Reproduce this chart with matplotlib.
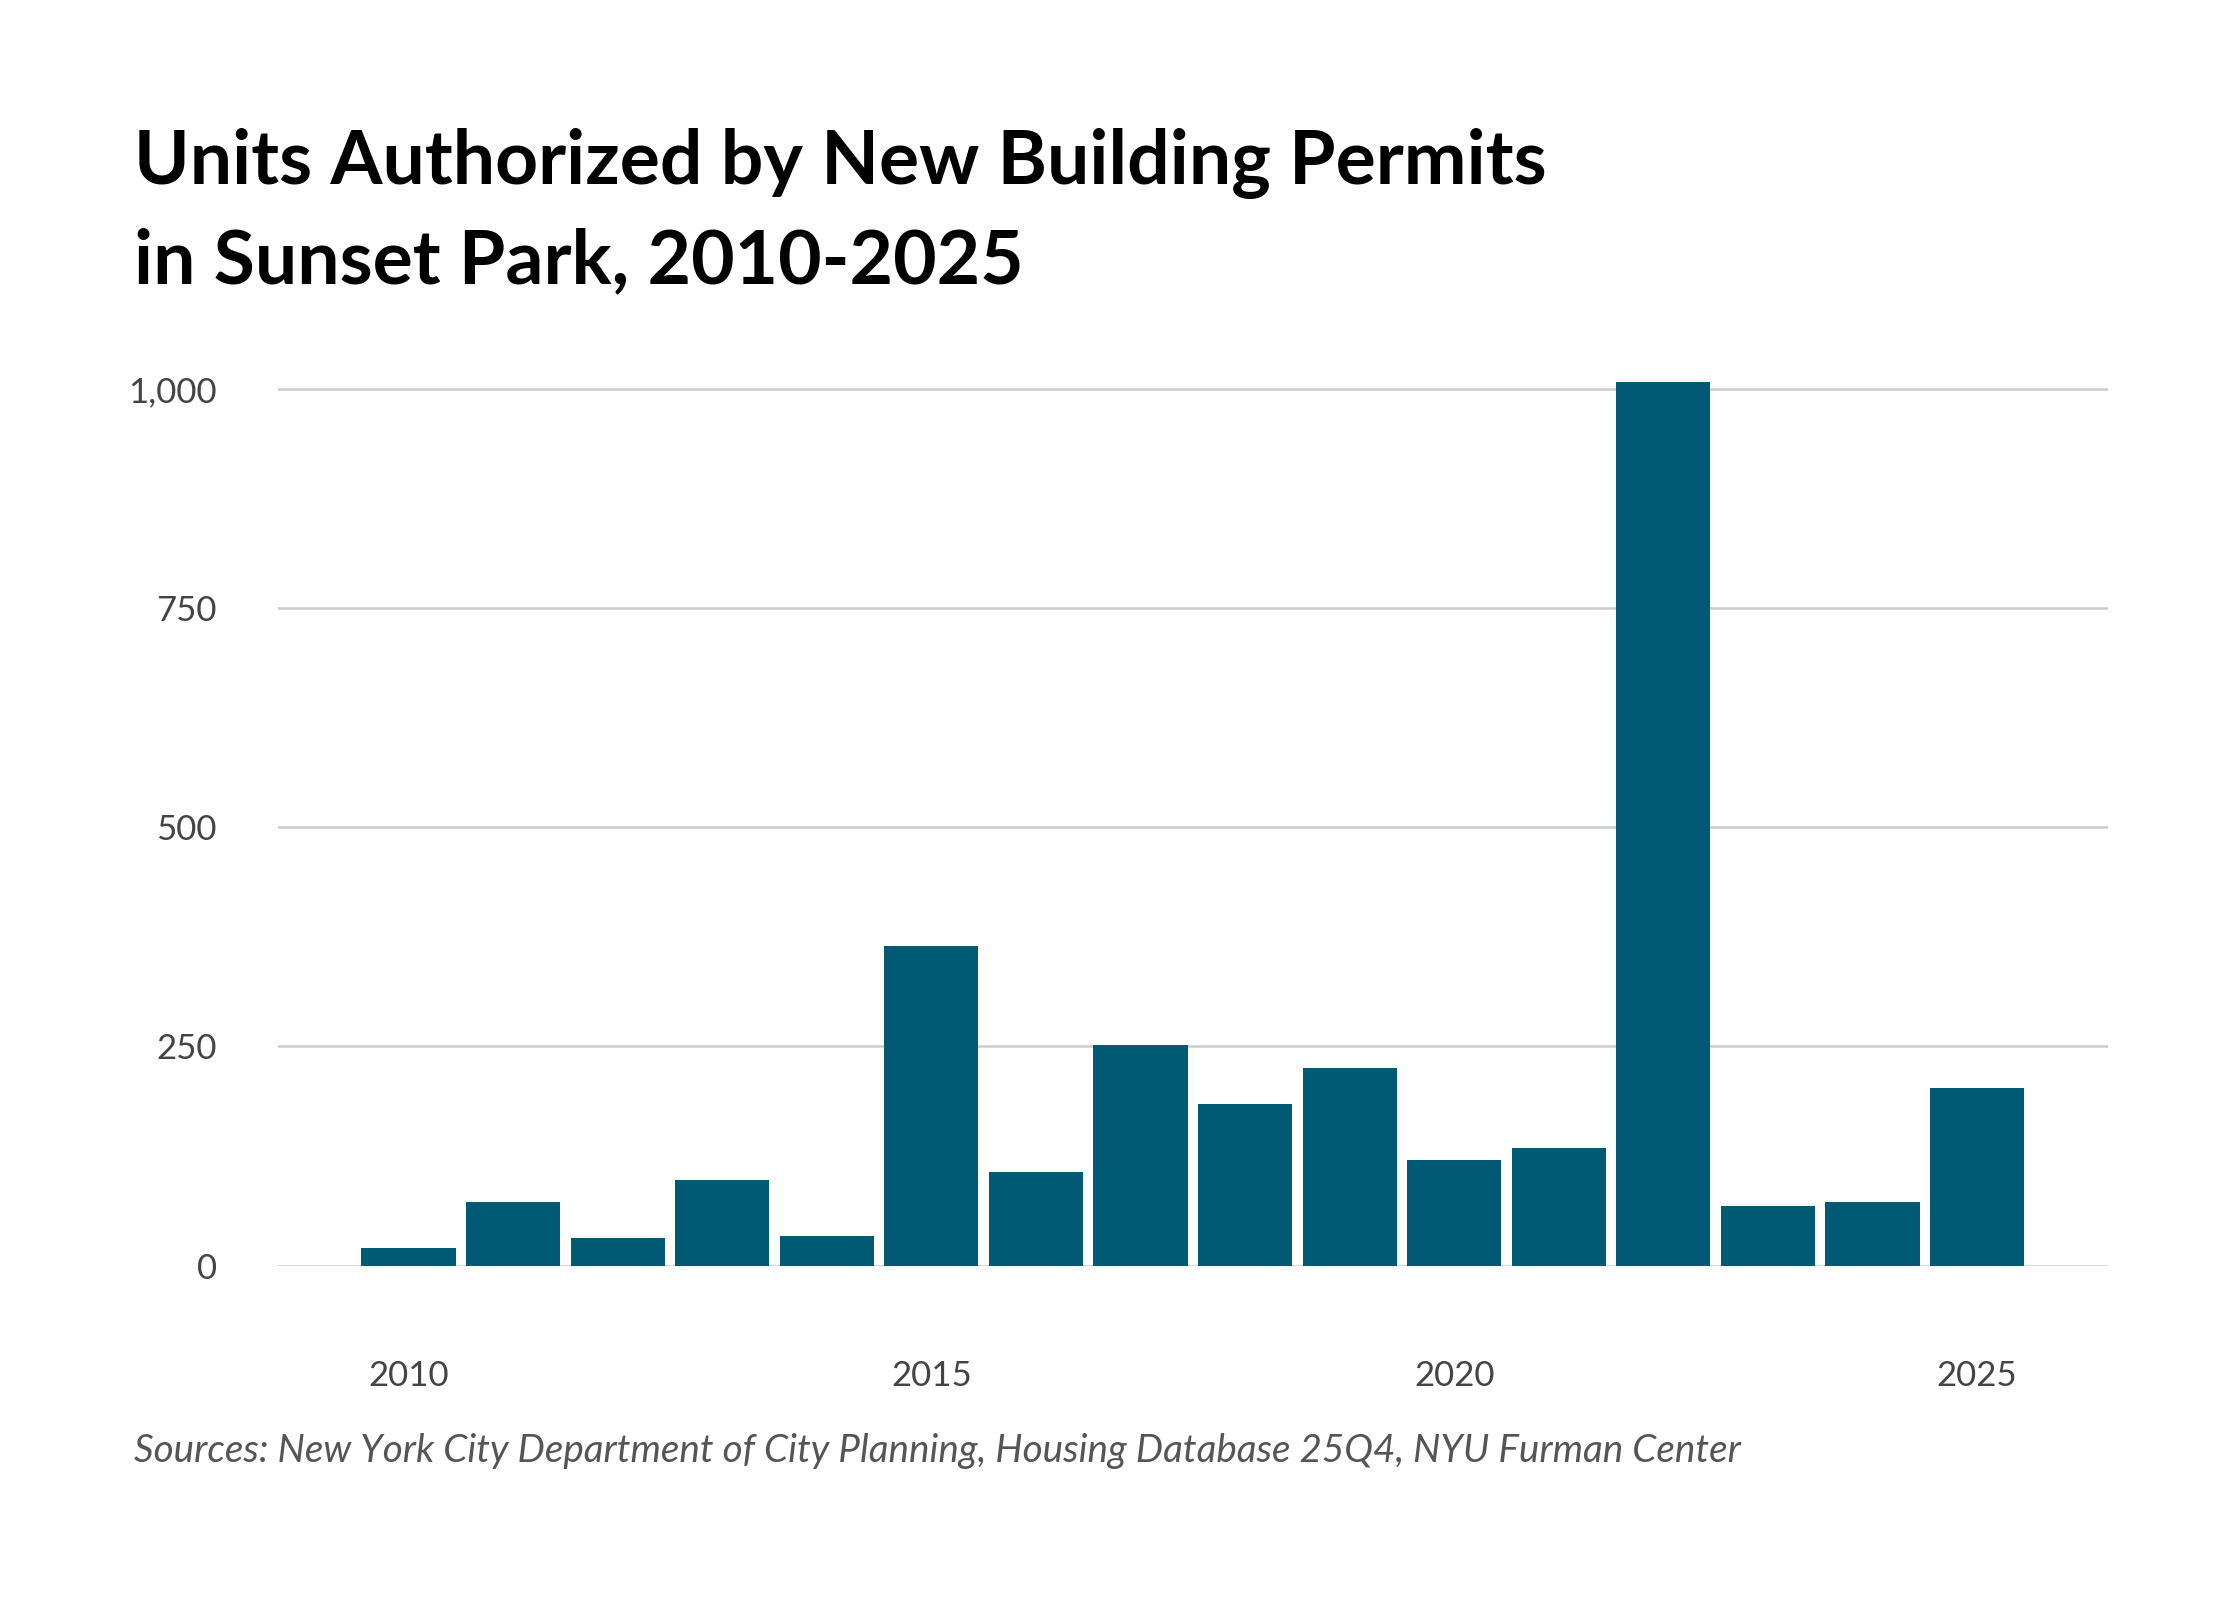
import matplotlib
matplotlib.use('Agg')
from matplotlib import pyplot as plt

years = list(range(2010, 2026))
units = [20, 72, 31, 98, 34, 365, 107, 252, 184, 225, 120, 134, 1008, 68, 72, 202]
yticks = [0, 250, 500, 750, 1000]
ytick_labels = ['0', '250', '500', '750', '1,000']
xticks = [2010, 2015, 2020, 2025]

plt.rcParams['font.family'] = ['Lato', 'DejaVu Sans']

fig = plt.figure(figsize=(11.2, 8), dpi=200)
ax = fig.add_axes([0.124, 0.209, 0.817, 0.5535])
ax.bar(years, units, width=0.9, color='#015a73', zorder=3)
ax.set_xlim(2008.75, 2026.25)
ax.set_ylim(0, 1010)
ax.set_yticks(yticks)
ax.set_yticklabels(ytick_labels)
ax.set_xticks(xticks)
ax.grid(axis='y', color='#cccccc', linewidth=0.9, zorder=0)
for s in ax.spines.values():
    s.set_visible(False)
ax.tick_params(length=0, labelsize=12.5, colors='#444444')
ax.tick_params(axis='x', pad=34)
ax.tick_params(axis='y', pad=22)

fig.text(0.06, 0.815, 'Units Authorized by New Building Permits\nin Sunset Park, 2010-2025',
         fontsize=27, fontweight='bold', va='bottom', linespacing=1.5)
fig.text(0.06, 0.093, 'Sources: New York City Department of City Planning, Housing Database 25Q4, NYU Furman Center',
         fontsize=13.9, style='italic', color='#555555', va='center')

fig.savefig('out.png', dpi=200, facecolor='white')
